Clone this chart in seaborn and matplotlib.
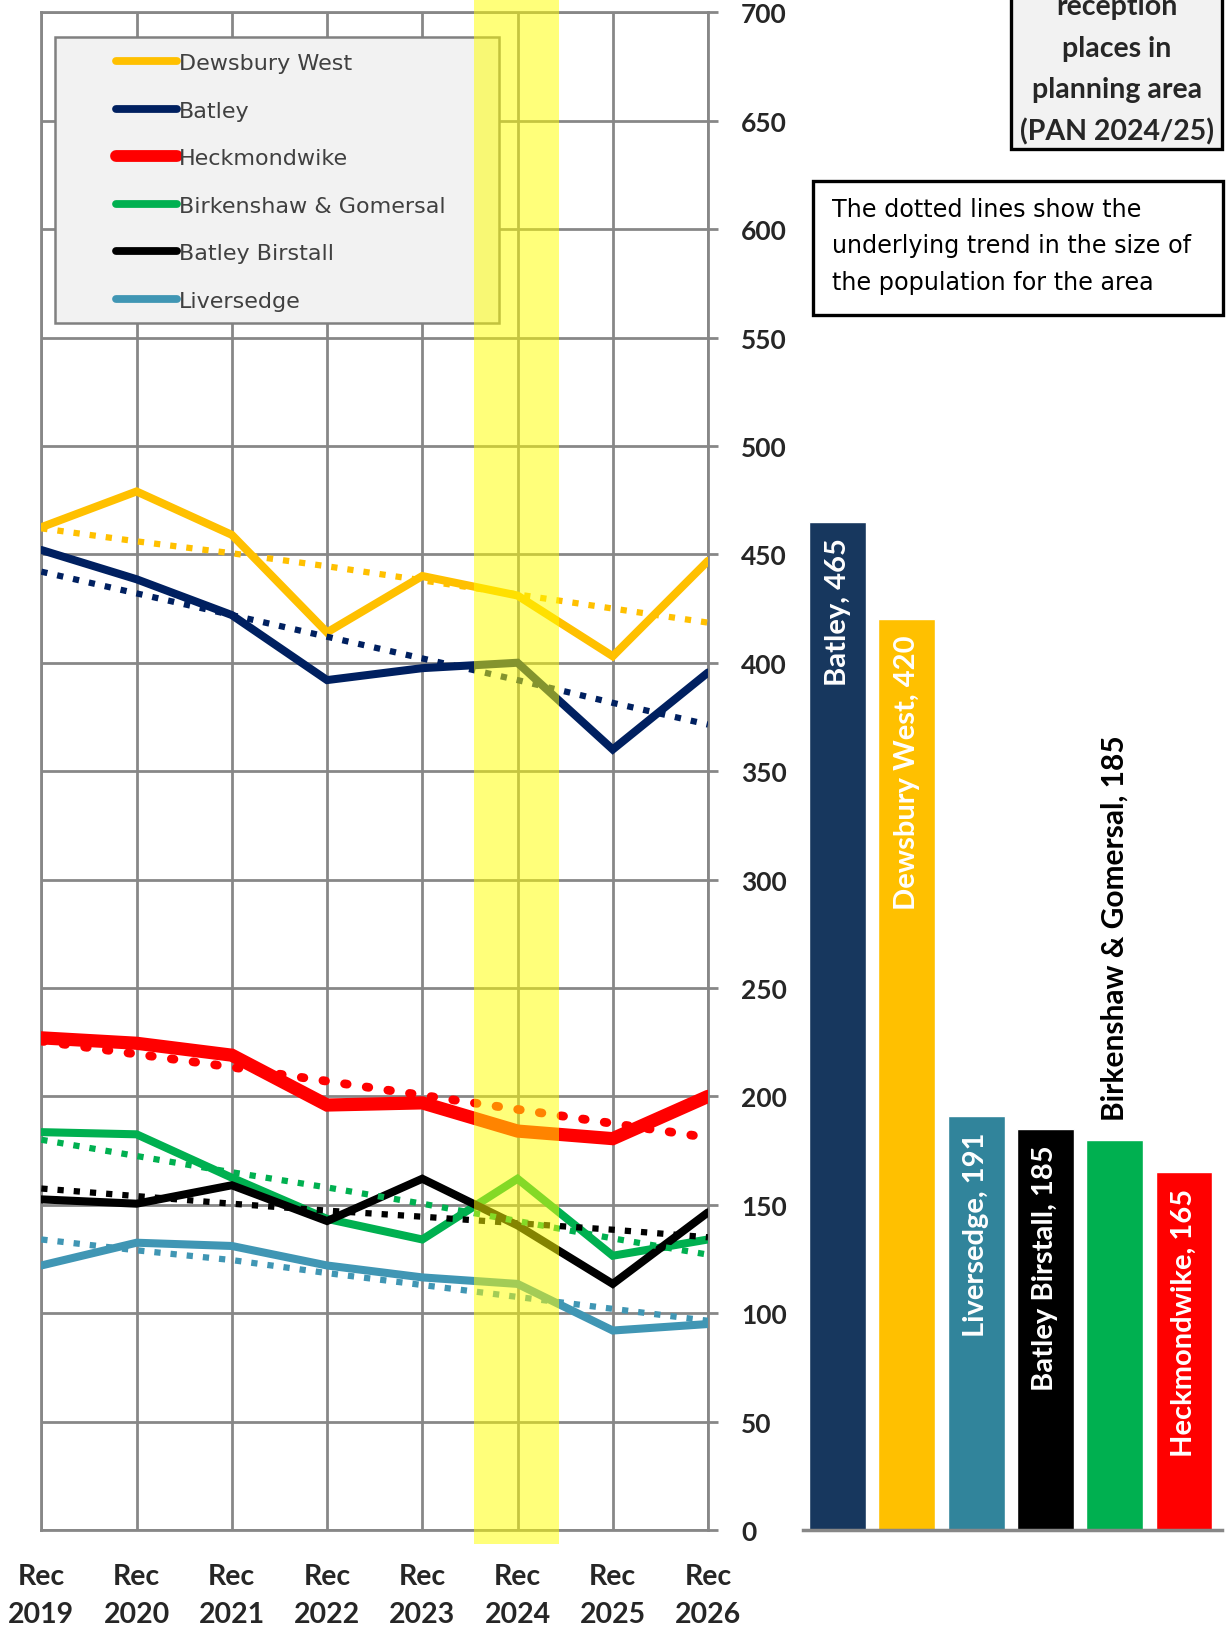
import numpy as np
import pandas as pd
import matplotlib
matplotlib.use('Agg')
import matplotlib.pyplot as plt
import seaborn as sns
from matplotlib.patches import Rectangle
from matplotlib.lines import Line2D

# ---------------- data ----------------
categories = ['Rec\n2019', 'Rec\n2020', 'Rec\n2021', 'Rec\n2022',
              'Rec\n2023', 'Rec\n2024', 'Rec\n2025', 'Rec\n2026']
highlight_category = 'Rec\n2024'

series_names = ['Dewsbury West', 'Batley', 'Heckmondwike',
                'Birkenshaw & Gomersal', 'Batley Birstall', 'Liversedge']

dewsbury_west = [462.5, 479, 459, 414, 440, 431, 403, 447]
batley = [452, 438.5, 422, 392, 397.5, 400, 360, 395.5]
heckmondwike = [227, 224.5, 219, 196, 197, 184, 180.5, 200]
birkenshaw_gomersal = [183.5, 182.5, 162.5, 143.5, 134, 162, 126.5, 134]
batley_birstall = [152.5, 150.5, 159, 142.5, 162, 140.5, 113.5, 146.5]
liversedge = [122, 132.5, 131, 122, 116.5, 113.5, 92, 95]

trend_dewsbury_west = [462, 456, 450.5, 444.5, 438, 431.5, 425, 418.5]
trend_batley = [442, 432, 422, 412, 402, 392, 381.5, 371.5]
trend_heckmondwike = [225.5, 219.5, 213.5, 207, 200.5, 194, 187.5, 181]
trend_birkenshaw_gomersal = [180, 172.5, 165, 158, 150.5, 142.5, 134.5, 127]
trend_batley_birstall = [157.5, 154, 150.5, 147.3, 144.5, 141.5, 138.5, 135]
trend_liversedge = [134, 129, 124.5, 118.5, 113, 107.5, 102, 96.5]

pan_areas = ['Batley', 'Dewsbury West', 'Liversedge', 'Batley Birstall',
             'Birkenshaw & Gomersal', 'Heckmondwike']
pan_bar_heights = [465, 420, 191, 185, 180, 165]
pan_label_values = [465, 420, 191, 185, 185, 165]

y_ticks = list(range(0, 701, 50))

box_title_lines = ['reception', 'places in', 'planning area', '(PAN 2024/25)']
note_lines = ['The dotted lines show the',
              'underlying trend in the size of',
              'the population for the area']

# ---------------- style ----------------
line_colors = {'Dewsbury West': '#FFC000', 'Batley': '#002060',
               'Heckmondwike': '#FF0000', 'Birkenshaw & Gomersal': '#00B050',
               'Batley Birstall': '#000000', 'Liversedge': '#4096B4'}
line_widths = {'Dewsbury West': 5.8, 'Batley': 5.8, 'Heckmondwike': 9.5,
               'Birkenshaw & Gomersal': 5.8, 'Batley Birstall': 5.8,
               'Liversedge': 5.8}
bar_colors = {'Batley': '#17375E', 'Dewsbury West': '#FFC000',
              'Liversedge': '#31849B', 'Batley Birstall': '#000000',
              'Birkenshaw & Gomersal': '#00B050', 'Heckmondwike': '#FF0000'}
GRID = '#878787'

sns.set_style('white')
plt.rcParams['font.family'] = ['Lato', 'DejaVu Sans']

W, H = 1226, 1640
fig = plt.figure(figsize=(W / 100, H / 100), dpi=100)


def fx(x):
    return x / W


def fy(y):
    return 1 - y / H


# axes geometry (pixels)
AX_L, AX_R, AX_T, AX_B = 41.3, 708.0, 13.3, 1531.0
ax = fig.add_axes([fx(AX_L), fy(AX_B), (AX_R - AX_L) / W, (AX_B - AX_T) / H])
BX_L, BX_R = 803.0, 1222.0
bx = fig.add_axes([fx(BX_L), fy(AX_B), (BX_R - BX_L) / W, (AX_B - AX_T) / H])

# ---------------- line chart ----------------
xpos = np.arange(len(categories))
actual = {'Dewsbury West': dewsbury_west, 'Batley': batley,
          'Heckmondwike': heckmondwike,
          'Birkenshaw & Gomersal': birkenshaw_gomersal,
          'Batley Birstall': batley_birstall, 'Liversedge': liversedge}
trend = {'Dewsbury West': trend_dewsbury_west, 'Batley': trend_batley,
         'Heckmondwike': trend_heckmondwike,
         'Birkenshaw & Gomersal': trend_birkenshaw_gomersal,
         'Batley Birstall': trend_batley_birstall, 'Liversedge': trend_liversedge}

for name in series_names:
    sns.lineplot(x=xpos, y=actual[name], color=line_colors[name],
                 lw=line_widths[name], ax=ax, zorder=3,
                 solid_joinstyle='miter', legend=False)
for name in series_names:
    if name == 'Heckmondwike':
        sns.lineplot(x=xpos, y=trend[name], color=line_colors[name], lw=6.3,
                     linestyle=(0, (0.3, 2.2)), dash_capstyle='round',
                     ax=ax, zorder=3.5, legend=False)
    else:
        sns.lineplot(x=xpos, y=trend[name], color=line_colors[name], lw=4.5,
                     linestyle=(0, (1, 1.6)), dash_capstyle='butt',
                     ax=ax, zorder=3.5, legend=False)

ax.set_xlim(0, len(categories) - 1)
ax.set_ylim(y_ticks[0], y_ticks[-1])
ax.set_xticks(xpos)
ax.set_xticklabels(categories, fontsize=20.5, fontweight='bold',
                   linespacing=1.6)
ax.set_yticks(y_ticks)
ax.set_yticklabels([str(v) for v in y_ticks], fontsize=19, fontweight='bold')
ax.yaxis.tick_right()
ax.tick_params(axis='x', length=8.6, width=2, color=GRID, pad=15)
ax.tick_params(axis='y', length=7.2, width=2, color=GRID, pad=16.5)
ax.grid(True, color=GRID, lw=2)
ax.set_axisbelow(True)
for sp in ax.spines.values():
    sp.set_color(GRID)
    sp.set_linewidth(2)
ax.set_xlabel('')
ax.set_ylabel('')

# highlighted year band
hi = categories.index(highlight_category)
ax.axvspan(hi - 0.455, hi + 0.44, ymin=-0.009, ymax=1.01, color='#FFFF00',
           alpha=0.52, lw=0, zorder=6, clip_on=False)

# legend box and legend
ax.add_patch(Rectangle((fx(55), fy(324)), (499 - 55) / W, (324 - 38) / H,
                       transform=fig.transFigure, facecolor='#F2F2F2',
                       edgecolor='#808080', lw=1.8, zorder=4, clip_on=False))
handles = [Line2D([], [], color=line_colors[n],
                  lw=8.5 if n == 'Heckmondwike' else 5.6) for n in series_names]
leg = ax.legend(handles, series_names, loc='upper left',
                bbox_to_anchor=(fx(116), fy(54)), bbox_transform=fig.transFigure,
                frameon=False, borderpad=0, borderaxespad=0,
                handlelength=2.75, handletextpad=0.1, labelspacing=1.24,
                prop={'family': 'DejaVu Sans', 'size': 16},
                labelcolor='#404040')
leg.set_zorder(4.5)

# ---------------- bar chart ----------------
df_bar = pd.DataFrame({'area': pan_areas, 'places': pan_bar_heights})
sns.barplot(data=df_bar, x='area', y='places', hue='area', palette=bar_colors,
            width=0.82, saturation=1, legend=False, ax=bx)
bx.set_xlim(-0.5, len(pan_areas) - 0.45)
bx.set_ylim(y_ticks[0], y_ticks[-1])
bx.set_xticks([])
bx.set_yticks([])
bx.set_xlabel('')
bx.set_ylabel('')
for k, sp in bx.spines.items():
    sp.set_visible(k == 'bottom')
bx.spines['bottom'].set_color(GRID)
bx.spines['bottom'].set_linewidth(2.5)
bx.patch.set_alpha(0)

for i, (name, h, lab) in enumerate(zip(pan_areas, pan_bar_heights, pan_label_values)):
    if name == 'Birkenshaw & Gomersal':
        bx.annotate(f'{name}, {lab}', (i, h), xytext=(0, 14),
                    textcoords='offset points', rotation=90, ha='center',
                    va='bottom', color='black', fontsize=21.5, fontweight='bold')
    else:
        bx.annotate(f'{name}, {lab}', (i, h), xytext=(0, -11),
                    textcoords='offset points', rotation=90, ha='center',
                    va='top', color='white', fontsize=21, fontweight='bold')

# ---------------- text boxes ----------------
fig.patches.append(Rectangle((fx(1011), fy(150)), (1222 - 1011) / W, 170 / H,
                             transform=fig.transFigure, facecolor='#F2F2F2',
                             edgecolor='black', lw=2.4, zorder=5))
for s, yb in zip(box_title_lines, [15, 57, 98, 140]):
    fig.text(fx(1117), fy(yb), s, ha='center', va='baseline', fontsize=20.5,
             fontweight='bold', color='#262626', zorder=6)

fig.patches.append(Rectangle((fx(813), fy(316)), (1223 - 813) / W, (316 - 182) / H,
                             transform=fig.transFigure, facecolor='white',
                             edgecolor='black', lw=2.4, zorder=5))
for s, yb in zip(note_lines, [217, 253.5, 290]):
    fig.text(fx(832), fy(yb), s, ha='left', va='baseline', fontsize=17.2,
             family='DejaVu Sans', color='black', zorder=6)

fig.savefig('out.png', dpi=100)
